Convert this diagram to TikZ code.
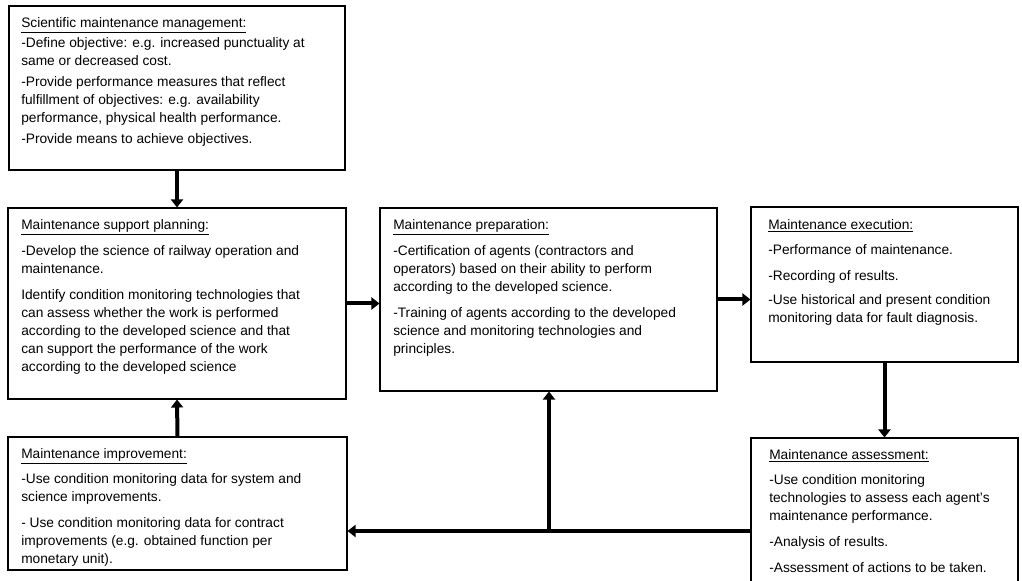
\documentclass[tikz,border=0pt]{standalone}
\usepackage{fontspec}
\setmainfont{Liberation Sans}
\usetikzlibrary{arrows.meta,fit}
\begin{document}
\begin{tikzpicture}[x=0.75pt,y=-0.75pt,
  box/.style={draw, line width=0.8pt, inner sep=0pt},
  txt/.style={anchor=north west, inner sep=0pt, align=left, font=\fontsize{10.3}{13.5}\selectfont},
  flow/.style={line width=3pt, -{Triangle[length=6pt,width=9pt]}}]
\useasboundingbox (0,0) rectangle (1022,581);
\clip (0,0) rectangle (1022,581);
% boxes
\node[box, fit={(9,6) (345,170)}] (b1) {};
\node[box, fit={(8,208) (346,399)}] (b2) {};
\node[box, fit={(380,208) (717,391)}] (b3) {};
\node[box, fit={(751,207) (1018,362)}] (b4) {};
\node[box, fit={(751,438) (1018,640)}] (b5) {};
\node[box, fit={(8,437) (347,570)}] (b6) {};
% texts
\node[txt] (t1) at (21,14.7) {\strut\underline{Scientific maintenance management:}\\[1.2pt]
-Define objective: e.g. increased punctuality at\\
same or decreased cost.\\[2.25pt]
-Provide performance measures that reflect\\
fulfillment of objectives: e.g. availability\\
performance, physical health performance.\\[2.25pt]
-Provide means to achieve objectives.};
\node[txt] (t2) at (21,216.7) {\strut\underline{Maintenance support planning:}\\[6pt]
-Develop the science of railway operation and\\
maintenance.\\[6pt]
Identify condition monitoring technologies that\\
can assess whether the work is performed\\
according to the developed science and that\\
can support the performance of the work\\
according to the developed science};
\node[txt] (t3) at (393,216.7) {\strut\underline{Maintenance preparation:}\\[6pt]
-Certification of agents (contractors and\\
operators) based on their ability to perform\\
according to the developed science.\\[6pt]
-Training of agents according to the developed\\
science and monitoring technologies and\\
principles.};
\node[txt] (t4) at (768,216.7) {\strut\underline{Maintenance execution:}\\[5pt]
-Performance of maintenance.\\[6pt]
-Recording of results.\\[5pt]
-Use historical and present condition\\
monitoring data for fault diagnosis.};
\node[txt] (t5) at (769,446.7) {\strut\underline{Maintenance assessment:}\\[5pt]
-Use condition monitoring\\
technologies to assess each agent's\\
maintenance performance.\\[6pt]
-Analysis of results.\\[6pt]
-Assessment of actions to be taken.};
\node[txt] (t6) at (21,445.5) {\strut\underline{Maintenance improvement:}\\[5.5pt]
-Use condition monitoring data for system and\\
science improvements.\\[5.5pt]
- Use condition monitoring data for contract\\
improvements (e.g. obtained function per\\
monetary unit).};
% connectors
\coordinate (j) at (549,531);
\draw[flow] (b1.south) -- (b2.north);
\draw[flow] (b6.north) -- (b2.south);
\draw[flow] (b2.east) -- (b2.east -| b3.west);
\draw[flow] (b3.east) -- (b3.east -| b4.west);
\draw[flow] (b4.south) -- (b4.south |- b5.north);
\draw[flow] (b5.west |- j) -- (b6.east |- j);
\draw[flow] (j) -- (j |- b3.south);
\end{tikzpicture}
\end{document}
